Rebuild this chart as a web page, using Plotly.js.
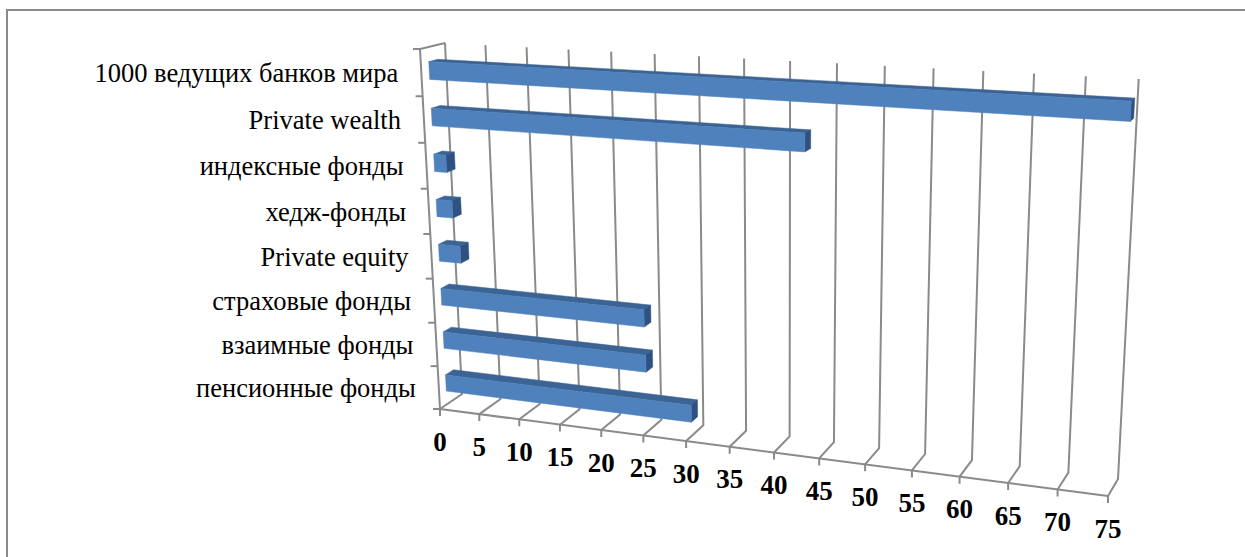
<!DOCTYPE html>
<html>
<head>
<meta charset="utf-8">
<script src="https://cdn.plot.ly/plotly-3.0.1.min.js"></script>
<style>html,body{margin:0;padding:0;background:#fff}#chart{width:1245px;height:557px}</style>
</head>
<body>
<div id="chart"></div>
<script>
// Assets by investor class, bottom to top of the category axis.
const categories = ["пенсионные фонды", "взаимные фонды", "страховые фонды", "Private equity",
                    "хедж-фонды", "индексные фонды", "Private wealth", "1000 ведущих банков мира"];
const values = [30, 24.8, 24.7, 2.7, 2, 1.5, 42.8, 75];
const valueTicks = [0, 5, 10, 15, 20, 25, 30, 35, 40, 45, 50, 55, 60, 65, 70, 75];
const valueMax = 75;

// Perspective box: image of the front and back walls on the page.
const frontWall = [[440, 409], [1108, 496], [1129, 87], [420, 49]];
const backWall = [[462, 394], [1118, 479], [1138.7, 79], [445, 43]];

function homography(q) {
  const [[x0, y0], [x1, y1], [x2, y2], [x3, y3]] = q;
  const dx1 = x1 - x2, dx2 = x3 - x2, sx = x0 - x1 + x2 - x3;
  const dy1 = y1 - y2, dy2 = y3 - y2, sy = y0 - y1 + y2 - y3;
  const den = dx1 * dy2 - dx2 * dy1;
  const g = (sx * dy2 - dx2 * sy) / den, h = (dx1 * sy - sx * dy1) / den;
  const a = x1 - x0 + g * x1, b = x3 - x0 + h * x3;
  const d = y1 - y0 + g * y1, e = y3 - y0 + h * y3;
  return (u, v) => {
    const w = g * u + h * v + 1;
    return [(a * u + b * v + x0) / w, (d * u + e * v + y0) / w];
  };
}
const onFront = homography(frontWall), onBack = homography(backWall);

// value along the axis, category position (0..n), depth (0 front, 1 back)
const n = categories.length;
function project(val, cat, depth) {
  const f = onFront(val / valueMax, cat / n), b = onBack(val / valueMax, cat / n);
  return [f[0] + (b[0] - f[0]) * depth, f[1] + (b[1] - f[1]) * depth];
}

function polyline(points) {
  const xs = [], ys = [];
  points.forEach(p => { xs.push(p[0]); ys.push(p[1]); });
  return { x: xs, y: ys };
}
function gather(pieces) {
  const x = [], y = [];
  pieces.forEach(pts => {
    pts.forEach(p => { x.push(p[0]); y.push(p[1]); });
    x.push(null); y.push(null);
  });
  return { x, y };
}

const gridColor = "#8a8a8a";
const gridWidth = 2;
const lines = [];

// Value gridlines: tick below the floor edge, across the floor, up the back wall.
valueTicks.forEach(t => {
  const base = project(t, 0, 0);
  lines.push([[base[0], base[1] + 7], base, project(t, 0, 1), project(t, n, 1)]);
});
// Floor front edge, left wall edges and category ticks.
lines.push([project(0, 0, 0), project(valueMax, 0, 0)]);
lines.push([project(0, n, 1), project(0, n, 0), project(0, 0, 0)]);
for (let i = 0; i <= n; i++) {
  const p = project(0, i, 0);
  lines.push([[p[0] - 7, p[1]], p]);
}
const grid = gather(lines);

// Bars occupy the middle of each category band and of the box depth.
const barLow = 0.31, barHigh = 0.69, depthNear = 0.32, depthFar = 0.68;
const frontFaces = [], topFaces = [], sideFaces = [];
values.forEach((val, i) => {
  const c0 = i + barLow, c1 = i + barHigh;
  frontFaces.push([project(0, c0, depthNear), project(val, c0, depthNear), project(val, c1, depthNear), project(0, c1, depthNear)]);
  topFaces.push([project(0, c1, depthNear), project(val, c1, depthNear), project(val, c1, depthFar), project(0, c1, depthFar)]);
  sideFaces.push([project(val, c0, depthNear), project(val, c0, depthFar), project(val, c1, depthFar), project(val, c1, depthNear)]);
});
const face = (pieces, color) => {
  const g = gather(pieces.map(p => p.concat([p[0]])));
  return { x: g.x, y: g.y, mode: "lines", fill: "toself", fillcolor: color,
           line: { color: color, width: 0.5 }, hoverinfo: "skip", showlegend: false };
};

// Text positions follow the axes.
const catLabels = polyline(categories.map((_, i) => {
  const p = project(0, i + 0.5, 0);
  return [p[0] - 23, p[1] + 3];
}));
const tickLabels = polyline(valueTicks.map(t => {
  const p = project(t, 0, 0);
  return [p[0], p[1] + 35];
}));

const data = [
  { x: [7, 7, 1245], y: [557, 10, 10], mode: "lines", line: { color: "#8a8a8a", width: 2 }, hoverinfo: "skip", showlegend: false },
  { x: grid.x, y: grid.y, mode: "lines", line: { color: gridColor, width: gridWidth }, hoverinfo: "skip", showlegend: false },
  face(topFaces, "#3b6494"),
  face(sideFaces, "#2f5181"),
  face(frontFaces, "#4f81bd"),
  { x: catLabels.x, y: catLabels.y, mode: "text", text: categories, textposition: "middle left",
    textfont: { family: "Liberation Serif", size: 26.5, color: "#000" }, hoverinfo: "skip", showlegend: false },
  { x: tickLabels.x, y: tickLabels.y, mode: "text", text: valueTicks.map(String), textposition: "middle center",
    textfont: { family: "Liberation Serif", size: 27, color: "#000", weight: "bold" }, hoverinfo: "skip", showlegend: false }
];

const layout = {
  width: 1245, height: 557,
  margin: { l: 0, r: 0, t: 0, b: 0 },
  paper_bgcolor: "#fff", plot_bgcolor: "#fff",
  showlegend: false,
  xaxis: { range: [0, 1245], visible: false, fixedrange: true },
  yaxis: { range: [557, 0], visible: false, fixedrange: true }
};
Plotly.newPlot("chart", data, layout, { displayModeBar: false, staticPlot: true });
</script>
</body>
</html>
